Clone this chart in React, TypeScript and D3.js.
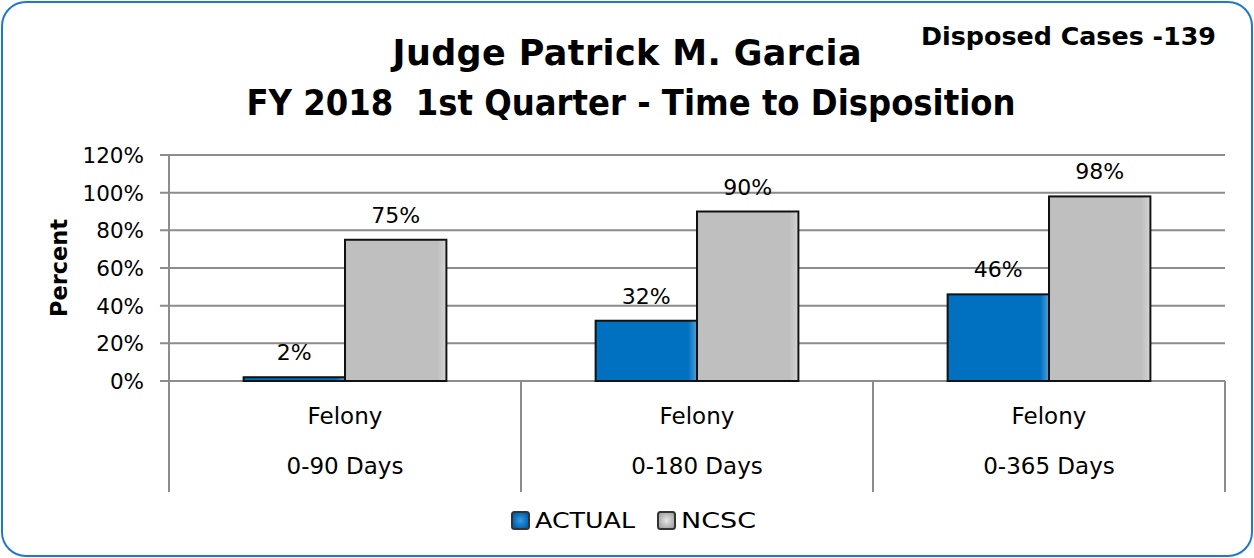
import React from "react";
import * as d3 from "d3";

const categories = ["0-90 Days", "0-180 Days", "0-365 Days"];
const groupLabel = "Felony";
const seriesNames = ["ACTUAL", "NCSC"];
const actualValues = [2, 32, 46];
const ncscValues = [75, 90, 98];
const yTicks = [0, 20, 40, 60, 80, 100, 120];

const colors: Record<string, string> = { ACTUAL: "#0070C0", NCSC: "#BFBFBF" };
const FONT = "'DejaVu Sans', sans-serif";

export default function App() {
  const W = 1254, H = 558;
  const left = 169, right = 1225, top = 155, bottom = 381;
  const x0 = d3.scaleBand<string>().domain(categories).range([left, right]).padding(0);
  const bw = x0.bandwidth();
  const x1 = d3.scaleBand<string>().domain(seriesNames).range([bw * 0.212, bw * 0.788]).padding(0);
  const y = d3.scaleLinear().domain([0, 120]).range([bottom, top]);
  const data = categories.map((c, i) => ({ c, vals: [actualValues[i], ncscValues[i]] }));
  const sepBottom = 492;
  const legendPos = [
    { box: 511, text: 535, len: 100 },
    { box: 657, text: 681, len: 75 },
  ];

  return (
    <svg width={W} height={H} style={{ position: "absolute", left: 0, top: 0 }} fontFamily={FONT}>
      <defs>
        <linearGradient id="gEdge" x1="0" x2="1" y1="0" y2="0">
          <stop offset="0" stopColor="#fff" stopOpacity="0" />
          <stop offset="0.92" stopColor="#fff" stopOpacity="0" />
          <stop offset="1" stopColor="#fff" stopOpacity="0.3" />
        </linearGradient>
        <radialGradient id="lgA">
          <stop offset="0" stopColor="#3a9ae8" />
          <stop offset="1" stopColor="#0062b0" />
        </radialGradient>
        <radialGradient id="lgN">
          <stop offset="0" stopColor="#e6e6e6" />
          <stop offset="1" stopColor="#a8a8a8" />
        </radialGradient>
      </defs>
      <rect x={2} y={2} width={W - 4} height={H - 4} rx={24} ry={24} fill="#fff" stroke="#1F78C8" strokeWidth={2} />
      <text x={627} y={65} textAnchor="middle" fontSize={35} fontWeight="bold" fill="#000" textLength={469} lengthAdjust="spacing">Judge Patrick M. Garcia</text>
      <text x={631} y={115} textAnchor="middle" fontSize={35} fontWeight="bold" fill="#000" textLength={769} lengthAdjust="spacingAndGlyphs" style={{ whiteSpace: "pre" }}>{"FY 2018  1st Quarter - Time to Disposition"}</text>
      <text x={1216} y={45} textAnchor="end" fontSize={24.5} fontWeight="bold" fill="#000" textLength={295} lengthAdjust="spacingAndGlyphs">Disposed Cases -139</text>

      {/* gridlines */}
      {yTicks.map((t) => (
        <g key={t}>
          <line x1={160} x2={right} y1={y(t)} y2={y(t)} stroke="#8C8C8C" strokeWidth={2} />
          <text x={144} y={y(t) + 8} textAnchor="end" fontSize={21.5} fill="#000">{t}%</text>
        </g>
      ))}
      {/* axis & separators */}
      <line x1={left} x2={left} y1={top} y2={sepBottom} stroke="#8C8C8C" strokeWidth={2} />
      {categories.map((c) => (
        <line key={"s" + c} x1={(x0(c) as number) + bw} x2={(x0(c) as number) + bw} y1={bottom} y2={sepBottom} stroke="#8C8C8C" strokeWidth={2} />
      ))}
      <text transform={`translate(67,268) rotate(-90)`} textAnchor="middle" fontSize={22.5} fontWeight="bold" fill="#000">Percent</text>

      {/* bars */}
      {data.map((d) => (
        <g key={d.c} transform={`translate(${x0(d.c)},0)`}>
          {seriesNames.map((s, j) => {
            const bx = x1(s) as number;
            const v = d.vals[j];
            return (
              <g key={s}>
                <rect x={bx} y={y(v)} width={x1.bandwidth()} height={y(0) - y(v)} fill={colors[s]} stroke="#111" strokeWidth={2} />
                <rect x={bx + 1} y={y(v) + 1} width={x1.bandwidth() - 2} height={Math.max(0, y(0) - y(v) - 2)} fill="url(#gEdge)" />
                <text x={bx + x1.bandwidth() / 2} y={y(v) - 17} textAnchor="middle" fontSize={22} fill="#000">{v}%</text>
              </g>
            );
          })}
          <text x={bw / 2} y={424} textAnchor="middle" fontSize={23} fill="#000">{groupLabel}</text>
          <text x={bw / 2} y={474} textAnchor="middle" fontSize={23} fill="#000">{d.c}</text>
        </g>
      ))}

      {/* legend */}
      {seriesNames.map((s, i) => {
        const p = legendPos[i];
        return (
          <g key={s}>
            <rect x={p.box + 1} y={512} width={17} height={17} rx={2.5} fill={i === 0 ? "url(#lgA)" : "url(#lgN)"} stroke="#333" strokeWidth={2} />
            <text x={p.text} y={528} fontSize={22} fill="#000" textLength={p.len} lengthAdjust="spacingAndGlyphs">{s}</text>
          </g>
        );
      })}
    </svg>
  );
}
